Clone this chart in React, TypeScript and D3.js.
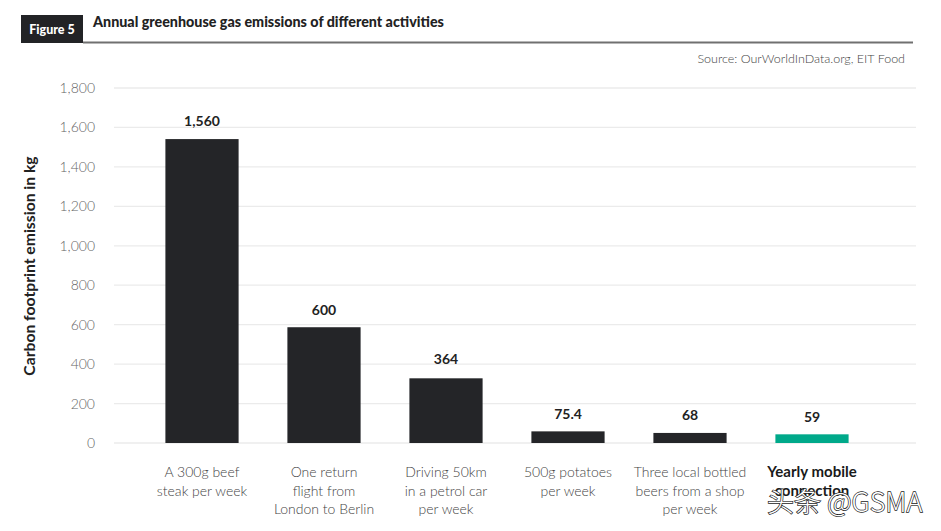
import React from "react";
import * as d3 from "d3";

const categories: string[][] = [
  ["A 300g beef", "steak per week"],
  ["One return", "flight from", "London to Berlin"],
  ["Driving 50km", "in a petrol car", "per week"],
  ["500g potatoes", "per week"],
  ["Three local bottled", "beers from a shop", "per week"],
  ["Yearly mobile", "connection"],
];
// bar heights as drawn in the reference
const barValues = [1541, 587, 328, 59, 51, 44];
// value labels as printed in the reference
const labelValues = [1560, 600, 364, 75.4, 68, 59];
const labelTexts = ["1,560", "600", "364", "75.4", "68", "59"];
const yTicks = [0, 200, 400, 600, 800, 1000, 1200, 1400, 1600, 1800];
const highlightIndex = 5;

const W = 941;
const H = 531;
const FONT = "Lato, 'Open Sans', sans-serif";

export default function App() {
  const y = d3.scaleLinear().domain([0, 1800]).range([443, 88]);
  const x = d3
    .scaleBand<number>()
    .domain(d3.range(categories.length))
    .range([141, 873])
    .paddingInner(0.4)
    .paddingOuter(0.2);
  const fmt = d3.format(",");

  return (
    <svg
      width={W}
      height={H}
      viewBox={`0 0 ${W} ${H}`}
      style={{ position: "absolute", left: 0, top: 0, background: "#fff" }}
    >
      <rect x={0} y={0} width={W} height={H} fill="#fff" />
      {/* Header */}
      <rect x={21} y={15} width={62} height={28} fill="#222326" />
      <text x={52} y={34} fill="#fff" fontFamily={FONT} fontWeight={900} fontSize={12.5} textAnchor="middle">
        Figure 5
      </text>
      <text x={93} y={27} fill="#222" fontFamily={FONT} fontWeight={900} fontSize={14.3}>
        Annual greenhouse gas emissions of different activities
      </text>
      <line x1={83} x2={913} y1={42.5} y2={42.5} stroke="#707070" strokeWidth={2} />
      <text x={905} y={63} fill="#444" fontFamily={FONT} fontWeight={300} fontSize={12.5} textAnchor="end">
        Source: OurWorldInData.org, EIT Food
      </text>

      {/* Grid */}
      {yTicks.map((t) => (
        <g key={t}>
          <line x1={114} x2={916} y1={y(t)} y2={y(t)} stroke="#ebebeb" strokeWidth={1.3} />
          <text x={95} y={y(t) + 5} fill="#666" fontFamily={FONT} fontWeight={300} fontSize={14} textAnchor="end">
            {fmt(t)}
          </text>
        </g>
      ))}

      {/* Y title */}
      <text
        transform={`translate(35,266) rotate(-90)`}
        fill="#222"
        fontFamily={FONT}
        fontWeight={700}
        fontSize={15.7}
        textAnchor="middle"
      >
        Carbon footprint emission in kg
      </text>

      {/* Bars */}
      {barValues.map((v, i) => (
        <rect
          key={i}
          x={x(i)!}
          y={y(v)}
          width={x.bandwidth()}
          height={y(0) - y(v)}
          fill={i === highlightIndex ? "#00a98a" : "#242528"}
        />
      ))}

      {/* Value labels */}
      {labelValues.map((v, i) => (
        <text
          key={i}
          x={x(i)! + x.bandwidth() / 2}
          y={(y(v) - 12 + y(barValues[i]) - 10) / 2}
          fill="#222"
          fontFamily={FONT}
          fontWeight={700}
          fontSize={14}
          textAnchor="middle"
        >
          {labelTexts[i]}
        </text>
      ))}

      {/* Category labels */}
      {categories.map((lines, i) => (
        <text
          key={i}
          x={x(i)! + x.bandwidth() / 2}
          y={477}
          fill={i === highlightIndex ? "#1a1a1a" : "#444"}
          fontFamily={FONT}
          fontWeight={i === highlightIndex ? 700 : 300}
          fontSize={i === highlightIndex ? 15 : 14}
          textAnchor="middle"
        >
          {lines.map((l, j) => (
            <tspan key={j} x={x(i)! + x.bandwidth() / 2} dy={j === 0 ? 0 : 18.5}>
              {l}
            </tspan>
          ))}
        </text>
      ))}

      {/* Watermark */}
      <text
        x={767}
        y={512}
        fill="#fff"
        stroke="#222"
        strokeWidth={1.4}
        paintOrder="stroke"
        fontFamily="'Noto Sans CJK SC', 'Noto Sans', sans-serif"
        fontWeight={300}
        fontSize={27}
      >
        头条 @GSMA
      </text>
    </svg>
  );
}
